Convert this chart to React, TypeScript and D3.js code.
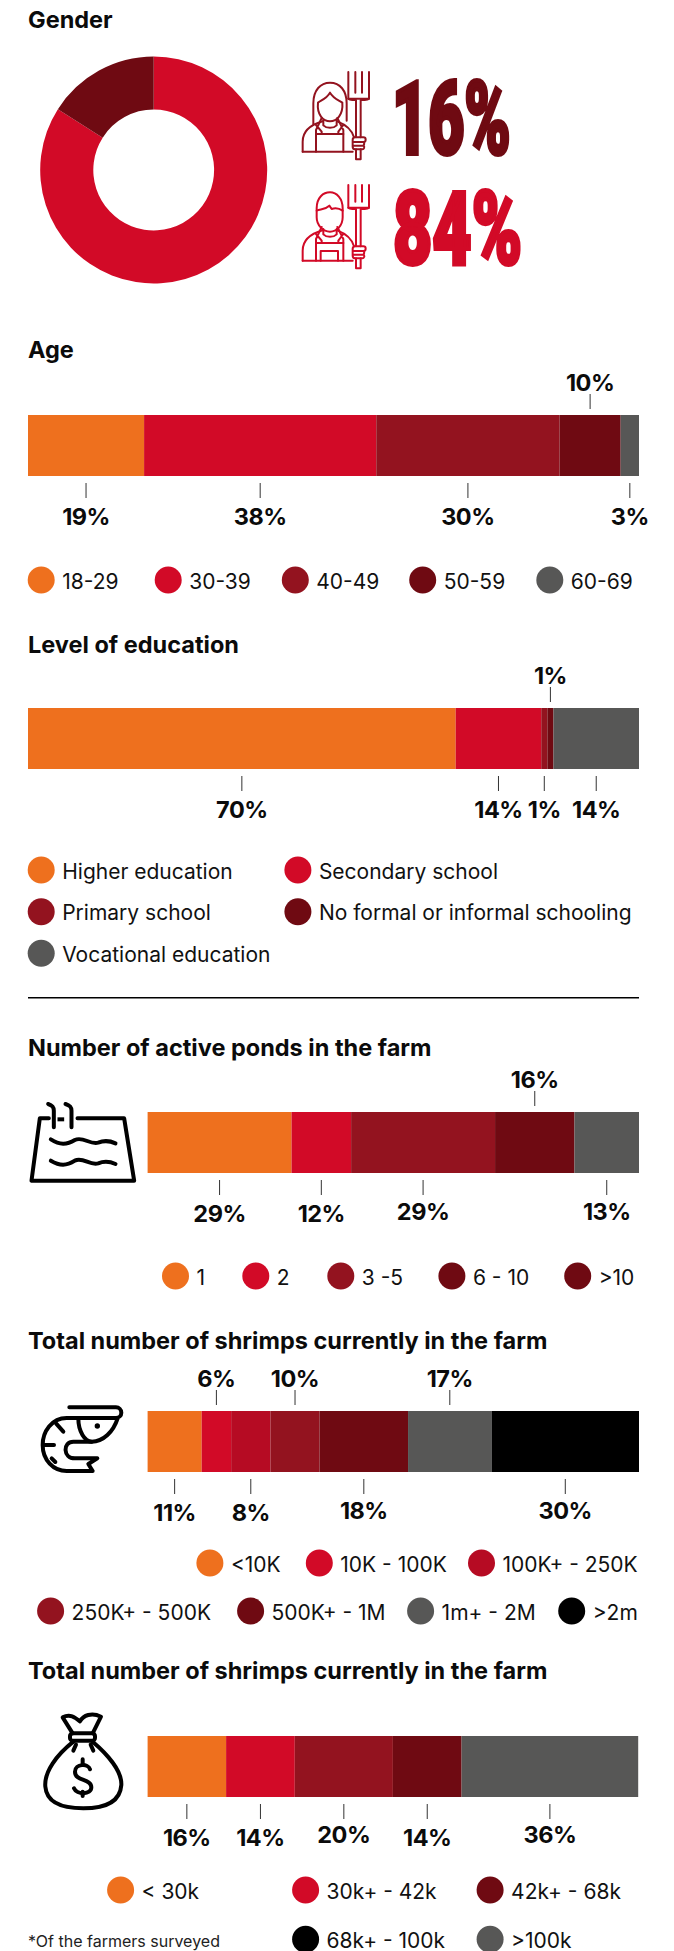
import React from "react";
import * as d3 from "d3";

// Palette
const ORANGE = "#EE701E";
const RED = "#D20A27";
const CRIMSON = "#B60B23";
const MAROON = "#93131F";
const DARK = "#6F0A12";
const GREY = "#575756";
const BLACK = "#000000";

// Gender
const genderValues = [84, 16];
const genderColors = [RED, DARK];

// Age
const ageValues = [19, 38, 30, 10, 3];
const ageColors = [ORANGE, RED, MAROON, DARK, GREY];
const ageLegend = ["18-29", "30-39", "40-49", "50-59", "60-69"];
const ageLegendColors = [ORANGE, RED, MAROON, DARK, GREY];

// Education
const eduValues = [70, 14, 1, 1, 14];
const eduColors = [ORANGE, RED, MAROON, DARK, GREY];
const eduLegend = ["Higher education", "Secondary school", "Primary school", "No formal or informal schooling", "Vocational education"];
const eduLegendColors = [ORANGE, RED, MAROON, DARK, GREY];

// Active ponds
const pondValues = [29, 12, 29, 16, 13];
const pondColors = [ORANGE, RED, MAROON, DARK, GREY];
const pondLegend = ["1", "2", "3 -5", "6 - 10", ">10"];
const pondLegendColors = [ORANGE, RED, MAROON, DARK, DARK];

// Shrimp count
const shrimpValues = [11, 6, 8, 10, 18, 17, 30];
const shrimpColors = [ORANGE, RED, CRIMSON, MAROON, DARK, GREY, BLACK];
const shrimpLegend = ["<10K", "10K - 100K", "100K+ - 250K", "250K+ - 500K", "500K+ - 1M", "1m+ - 2M", ">2m"];
const shrimpLegendColors = [ORANGE, RED, CRIMSON, MAROON, DARK, GREY, BLACK];

// Income bands
const incomeValues = [16, 14, 20, 14, 36];
const incomeColors = [ORANGE, RED, MAROON, DARK, GREY];
const incomeLegend = ["< 30k", "30k+ - 42k", "42k+ - 68k", "68k+ - 100k", ">100k"];
const incomeLegendColors = [ORANGE, RED, DARK, BLACK, GREY];

const FONT = "Inter, sans-serif";
const BAR_H = 61;

type Side = "a" | "b";

function StackedBar(props: {
  values: number[];
  colors: string[];
  x0: number;
  x1: number;
  top: number;
  sides: Side[];
  nudges?: number[];
}) {
  const { values, colors, x0, x1, top, sides, nudges } = props;
  const total = d3.sum(values);
  const x = d3.scaleLinear().domain([0, total]).range([x0, x1]);
  const cum = d3.cumsum(values);
  return (
    <g>
      {values.map((v, i) => {
        const a = x(i === 0 ? 0 : cum[i - 1]);
        const b = x(cum[i]);
        const c = (a + b) / 2;
        const above = sides[i] === "a";
        const bottom = top + BAR_H;
        const dy = nudges ? nudges[i] : 0;
        return (
          <g key={i}>
            <rect x={a} y={top} width={b - a} height={BAR_H} fill={colors[i]} />
            <line
              x1={c}
              x2={c}
              y1={above ? top - 21 : bottom + 7}
              y2={above ? top - 6 : bottom + 22}
              stroke="#333"
              strokeWidth={1}
            />
            <text
              x={c}
              y={above ? top - 24 : bottom + 49 + dy}
              textAnchor="middle"
              fontFamily={FONT}
              fontWeight={700}
              fontSize={23.5}
              letterSpacing={-0.5}
              fill="#0b0b0b"
            >
              {v}%
            </text>
          </g>
        );
      })}
    </g>
  );
}

function Legend(props: { labels: string[]; colors: string[]; cxs: number[]; cys: number[] }) {
  const { labels, colors, cxs, cys } = props;
  return (
    <g>
      {labels.map((l, i) => (
        <g key={l}>
          <circle cx={cxs[i]} cy={cys[i]} r={13.5} fill={colors[i]} />
          <text x={cxs[i] + 21} y={cys[i] + 8.5} fontFamily={FONT} fontSize={21} fill="#111">
            {l}
          </text>
        </g>
      ))}
    </g>
  );
}

function Title({ y, children }: { y: number; children: string }) {
  return (
    <text x={28} y={y} fontFamily={FONT} fontWeight={700} fontSize={23.5} fill="#0b0b0b">
      {children}
    </text>
  );
}

// Farmer pictogram with pitchfork, drawn in a 3× local grid.
function Farmer({ female, color, dy }: { female: boolean; color: string; dy: number }) {
  const common = { fill: "none", stroke: color, strokeWidth: 6, strokeLinejoin: "round" as const, strokeLinecap: "round" as const };
  const forkTop = female ? 66 : 78;
  return (
    <g transform={`translate(280,${dy}) scale(${1 / 3})`} {...common}>
      {/* fork */}
      <path d={`M205 ${forkTop}V146H267V${forkTop}M226 ${forkTop}V128M246 ${forkTop}V128`} />
      <path d="M205 146q0 4 23 4V262M267 146q0 4 -25 4V262M228 298V328H242V298" />
      <path d="M224 262H250a7 7 0 0 1 0 14a7 7 0 0 1 0 11a6 6 0 0 1 -4 11H226a8 8 0 0 1 -8 -8V270a8 8 0 0 1 6 -8zM218 276H248M218 287H248" />
      {female ? (
        <>
          <path d="M100 222V160C100 120 122 98 150 98C180 98 200 122 200 160V212" />
          <path d="M114 158C125 150 140 145 150 128C160 145 175 150 187 158C190 195 170 214 150 214C130 214 110 195 114 158Z" />
        </>
      ) : (
        <>
          <path d="M110 148C110 115 130 100 150 100C170 100 188 118 188 148V175C188 200 170 218 150 218C130 218 110 200 110 175Z" />
          <path d="M110 155C125 150 135 152 148 140L155 150C165 146 175 146 188 155" />
        </>
      )}
      <path d="M130 210V226C140 236 160 236 170 226V210" />
      <path d="M68 305V275C68 245 90 225 128 214M172 214C200 225 216 240 222 262" />
      <path d="M68 305H218" />
      <path d="M108 305V252H190V305" />
      <path d="M108 252V240L125 204M190 252V240L172 204M108 225L125 245V252M190 225L175 245V252" />
      {!female && <path d="M122 305V276H174V305" />}
    </g>
  );
}

function PondIcon() {
  const s = { fill: "none", stroke: "#000", strokeWidth: 12, strokeLinejoin: "round" as const, strokeLinecap: "round" as const };
  return (
    <g transform="translate(21.5,1090) scale(0.3333)" {...s}>
      <path d="M82 85H55L30 272H338L308 85H168" />
      <path d="M108 88H128" strokeLinecap="butt" />
      <path d="M80 42C92 46 97 50 97 62V112M132 42C145 46 150 50 150 62V112" />
      <path d="M88 148C115 165 135 165 160 150C185 138 205 165 230 158C245 152 260 150 282 160" />
      <path d="M88 212C115 228 135 228 160 212C185 200 205 228 230 220C245 214 260 212 282 222" />
    </g>
  );
}

function ShrimpIcon() {
  const s = { fill: "none", stroke: "#000", strokeWidth: 12, strokeLinejoin: "round" as const, strokeLinecap: "round" as const };
  return (
    <g transform="translate(20,1390) scale(0.3333)" {...s}>
      <path d="M148 52H288A16 16 0 0 1 288 84H140C95 84 68 125 68 165C68 210 100 243 140 243H218L205 222L232 205H165C128 205 128 155 160 155H215C250 155 280 125 293 85" />
      <path d="M175 85C175 125 195 155 215 155" />
      <path d="M108 100L130 125M70 165H102M95 205L106 216" />
      <circle cx={232} cy={108} r={8} fill="#000" stroke="none" />
    </g>
  );
}

function BagIcon() {
  const s = { fill: "none", stroke: "#000", strokeWidth: 12, strokeLinejoin: "round" as const, strokeLinecap: "round" as const };
  return (
    <g transform="translate(20,1700) scale(0.3333)" {...s}>
      <path d="M158 100L128 52C150 40 165 52 180 64C190 46 215 36 243 50L218 100" />
      <rect x={150} y={100} width={75} height={22} rx={8} />
      <path d="M160 125C110 165 72 215 76 260C80 310 130 325 190 325C250 325 300 310 304 255C306 215 265 165 218 125" />
      <path d="M168 134L160 152M212 134L220 152" />
      <path d="M210 208C205 190 165 190 165 215C165 245 214 235 214 262C214 285 170 285 162 265" />
      <path d="M188 178V192M188 275V288" />
    </g>
  );
}

// Oversized condensed percentage beside each farmer.
function BigPercent({ x, y, sx, color, value }: { x: number; y: number; sx: number; color: string; value: number }) {
  return (
    <text
      transform={`translate(${x},${y}) scale(${sx},1)`}
      fontFamily="Roboto, sans-serif"
      fontWeight={900}
      fontSize={102}
      fill={color}
      stroke={color}
      strokeWidth={3.5}
      vectorEffect="non-scaling-stroke"
    >
      {value}%
    </text>
  );
}

export default function App() {
  const pie = d3.pie<number>().sort(null)(genderValues);
  const arc = d3.arc<d3.PieArcDatum<number>>().innerRadius(60.4).outerRadius(113.5);

  return (
    <svg width={674} height={1951} style={{ position: "absolute", left: 0, top: 0, background: "#fff" }}>
      <Title y={28}>Gender</Title>
      <g transform="translate(153.7,170)">
        {pie.map((p, i) => (
          <path key={i} d={arc(p) as string} fill={genderColors[i]} />
        ))}
      </g>
      <Farmer female color={MAROON} dy={50} />
      <Farmer female={false} color={RED} dy={159} />
      <BigPercent x={392} y={154} sx={0.612} color={DARK} value={genderValues[1]} />
      <BigPercent x={393} y={264} sx={0.665} color={RED} value={genderValues[0]} />

      <Title y={358}>Age</Title>
      <StackedBar values={ageValues} colors={ageColors} x0={28} x1={639} top={415} sides={["b", "b", "b", "a", "b"]} />
      <Legend labels={ageLegend} colors={ageLegendColors} cxs={[41.2, 168.2, 295.3, 422.7, 549.8]} cys={[580, 580, 580, 580, 580]} />

      <Title y={653}>Level of education</Title>
      <StackedBar values={eduValues} colors={eduColors} x0={28} x1={639} top={708} sides={["b", "b", "b", "a", "b"]} />
      <Legend
        labels={eduLegend}
        colors={eduLegendColors}
        cxs={[41.2, 297.9, 41.2, 297.9, 41.2]}
        cys={[870, 870, 911.7, 911.7, 953.3]}
      />
      <line x1={28} x2={639} y1={997.7} y2={997.7} stroke="#000" strokeWidth={1.5} />

      <Title y={1056}>Number of active ponds in the farm</Title>
      <PondIcon />
      <StackedBar values={pondValues} colors={pondColors} x0={147.6} x1={639} top={1112} sides={["b", "b", "b", "a", "b"]} nudges={[0, 0, -2, 0, -2]} />
      <Legend
        labels={pondLegend}
        colors={pondLegendColors}
        cxs={[175.5, 255.8, 340.8, 451.9, 577.7]}
        cys={[1276, 1276, 1276, 1276, 1276]}
      />

      <Title y={1349}>Total number of shrimps currently in the farm</Title>
      <ShrimpIcon />
      <StackedBar
        values={shrimpValues}
        colors={shrimpColors}
        x0={147.6}
        x1={639}
        top={1411}
        sides={["b", "a", "b", "a", "b", "a", "b"]}
        nudges={[0, 0, 0, 0, -2, 0, -2]}
      />
      <Legend
        labels={shrimpLegend}
        colors={shrimpLegendColors}
        cxs={[209.9, 319.3, 481.5, 50.6, 250.6, 420.6, 571.7]}
        cys={[1563, 1563, 1563, 1611, 1611, 1611, 1611]}
      />

      <Title y={1679}>Total number of shrimps currently in the farm</Title>
      <BagIcon />
      <StackedBar
        values={incomeValues}
        colors={incomeColors}
        x0={147.6}
        x1={638.2}
        top={1736}
        sides={["b", "b", "b", "b", "b"]}
        nudges={[0, 0, -3, 0, -3]}
      />
      <Legend
        labels={incomeLegend}
        colors={incomeLegendColors}
        cxs={[120.6, 305.6, 490.1, 305.6, 490.1]}
        cys={[1890, 1890, 1890, 1939.3, 1939.3]}
      />
      <text x={28} y={1946.5} fontFamily={FONT} fontSize={16} fill="#222">
        *Of the farmers surveyed
      </text>
    </svg>
  );
}
